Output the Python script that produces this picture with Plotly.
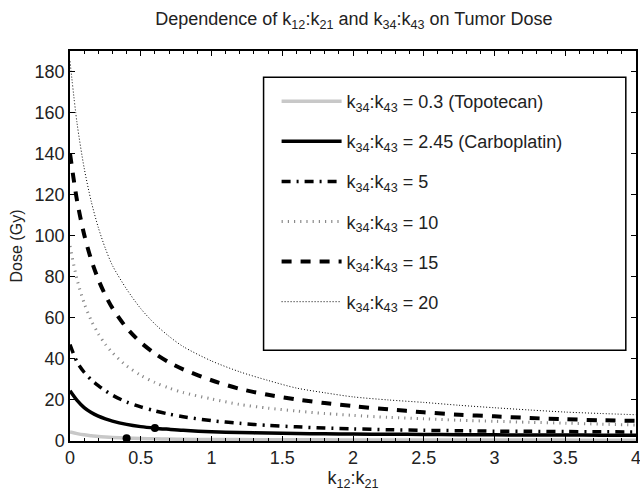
import plotly.graph_objects as go

# k12:k21 sample positions
k_ratio = [0, 0.05, 0.1, 0.15, 0.2, 0.25, 0.3, 0.4, 0.5, 0.6, 0.7, 0.8, 1.0, 1.2, 1.4, 1.6, 1.8,
           2.0, 2.25, 2.5, 2.75, 3.0, 3.25, 3.5, 3.75, 4.0]

# Dose (Gy) per k34:k43 value
dose_topotecan = [4.4, 3.6, 3.0, 2.6, 2.2, 1.95, 1.75, 1.4, 1.2, 1.05, 0.95, 0.85, 0.75, 0.68, 0.62,
                  0.58, 0.55, 0.52, 0.5, 0.48, 0.46, 0.45, 0.44, 0.43, 0.42, 0.41]
dose_carboplatin = [24.5, 19.8, 16.3, 13.9, 12.1, 10.8, 9.7, 8.1, 7.0, 6.25, 5.7, 5.2, 4.5, 4.1, 3.85,
                    3.65, 3.5, 3.4, 3.3, 3.2, 3.1, 3.0, 2.95, 2.9, 2.85, 2.8]
dose_5 = [47, 38.5, 33.5, 29.8, 27, 24.5, 22.3, 19, 16.6, 14.7, 13.1, 11.8, 9.9, 8.6, 7.6, 6.9, 6.3,
          5.9, 5.5, 5.2, 5.0, 4.8, 4.7, 4.6, 4.5, 4.4]
dose_10 = [95, 78.6, 67.2, 58.7, 52.3, 47.1, 43, 36.6, 32, 28.5, 25.8, 23.6, 20.5, 17.8, 16, 14.6, 13.4,
           12.5, 11.5, 10.8, 10.1, 9.6, 9.1, 8.7, 8.2, 7.8]
dose_15 = [140, 117, 100.6, 88.3, 78.7, 71, 64.7, 55.1, 48, 42.6, 38.3, 34.9, 29.6, 25.4, 22.5, 20.3,
           18.5, 17, 15.4, 14, 12.8, 12.0, 11.2, 10.6, 10.1, 9.8]
dose_20 = [185, 154.7, 133, 116.7, 104, 93.8, 85.5, 74, 64.5, 57, 51, 46, 39, 33.7, 29.5, 25.8, 23.5,
           21.5, 20, 18.8, 17.4, 16.2, 15.1, 14.1, 13.4, 12.8]

# highlighted points
marker_x = [0.4, 0.6]
marker_y = [1.3, 6.3]

legend_names = [
    "k<sub>34</sub>:k<sub>43</sub> = 0.3 (Topotecan)",
    "k<sub>34</sub>:k<sub>43</sub> = 2.45 (Carboplatin)",
    "k<sub>34</sub>:k<sub>43</sub> = 5",
    "k<sub>34</sub>:k<sub>43</sub> = 10",
    "k<sub>34</sub>:k<sub>43</sub> = 15",
    "k<sub>34</sub>:k<sub>43</sub> = 20",
]

x_ticks = [0, 0.5, 1, 1.5, 2, 2.5, 3, 3.5, 4]
y_ticks = [0, 20, 40, 60, 80, 100, 120, 140, 160, 180]

series = [dose_topotecan, dose_carboplatin, dose_5, dose_10, dose_15, dose_20]
styles = [
    dict(color="#c8c8c8", width=3.5, dash="solid"),
    dict(color="black", width=3.5, dash="solid"),
    dict(color="black", width=3.5, dash="9px,6px,2px,6px"),
    dict(color="#8a8a8a", width=3, dash="1.2px,5px"),
    dict(color="black", width=4, dash="10px,9px"),
    dict(color="black", width=1, dash="1px,2px"),
]

fig = go.Figure()
for i, (name, ys, st) in enumerate(zip(legend_names, series, styles)):
    fig.add_trace(go.Scatter(
        x=k_ratio, y=ys, mode="lines", name=name,
        line=dict(shape="spline", smoothing=0.8, **st),
        legendgroup=f"g{i}",
    ))

fig.add_trace(go.Scatter(
    x=marker_x, y=marker_y, mode="markers", showlegend=False,
    marker=dict(color="black", size=8, symbol="circle"),
))

font_family = "Liberation Sans, Arial, Helvetica, sans-serif"

fig.add_shape(type="rect", xref="paper", yref="paper",
              x0=0.342, x1=0.982, y0=0.233, y1=0.933,
              line=dict(color="black", width=1.5), fillcolor="white", layer="above")

fig.update_layout(
    width=640, height=496,
    margin=dict(l=70, r=4, t=51, b=55, autoexpand=False),
    paper_bgcolor="white", plot_bgcolor="white",
    font=dict(family=font_family, size=18, color="#222"),
    title=dict(text="Dependence of k<sub>12</sub>:k<sub>21</sub> and k<sub>34</sub>:k<sub>43</sub> on Tumor Dose",
               x=0.553, xanchor="center", y=0.962, yanchor="middle", yref="container",
               font=dict(size=18)),
    showlegend=True,
    legend=dict(x=0.365, y=0.918, xanchor="left", yanchor="top",
                bgcolor="rgba(0,0,0,0)", borderwidth=0,
                font=dict(size=18), itemwidth=60, tracegroupgap=13.7,
                traceorder="grouped"),
    xaxis=dict(range=[0, 4], tickvals=x_ticks, ticktext=[f"{v:g}" for v in x_ticks],
               ticks="inside", ticklen=5, tickcolor="black", tickwidth=1,
               showline=True, linecolor="black", linewidth=1.5, mirror="ticks",
               showgrid=False, zeroline=False, ticklabeloverflow="allow",
               minor=dict(dtick=0.1, tick0=0, ticks="inside", ticklen=3, tickcolor="black", showgrid=False),
               title=dict(text="k<sub>12</sub>:k<sub>21</sub>", standoff=4, font=dict(size=18))),
    yaxis=dict(range=[0, 190], tickvals=y_ticks,
               ticks="inside", ticklen=5, tickcolor="black", tickwidth=1,
               showline=True, linecolor="black", linewidth=1.5, mirror="ticks",
               showgrid=False, zeroline=False,
               title=dict(text="Dose (Gy)", standoff=8, font=dict(size=16))),
)

fig.write_html("out.html")
